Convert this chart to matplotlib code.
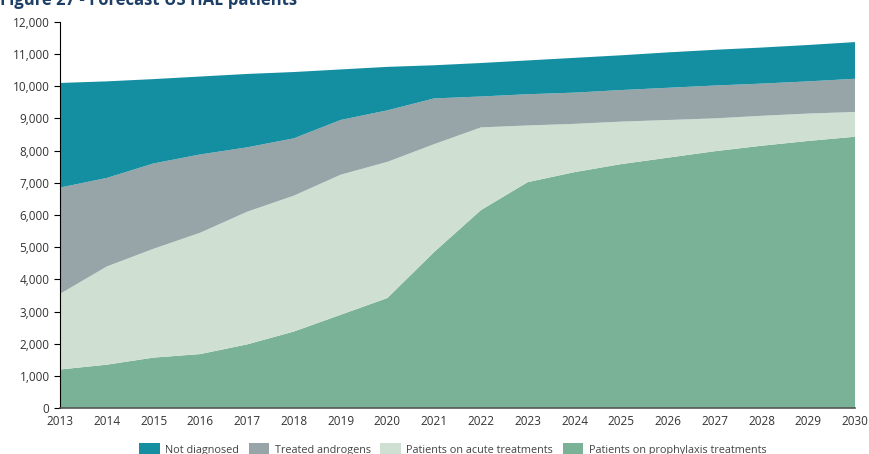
import matplotlib.pyplot as plt
import numpy as np

years = list(range(2013, 2031))

# cumulative tops
total = [10100, 10150, 10220, 10300, 10380, 10440, 10520, 10600, 10650,
         10720, 10800, 10880, 10960, 11050, 11130, 11200, 11280, 11370]
top_androgens = [6850, 7150, 7600, 7880, 8100, 8380, 8950, 9250, 9620,
                 9680, 9750, 9800, 9880, 9950, 10020, 10080, 10150, 10230]
top_acute = [3550, 4400, 4950, 5450, 6100, 6600, 7250, 7650, 8200,
             8720, 8780, 8830, 8900, 8950, 9000, 9080, 9150, 9200]
prophylaxis = [1200, 1350, 1570, 1680, 1980, 2380, 2900, 3420, 4850,
               6150, 7020, 7330, 7580, 7780, 7980, 8150, 8300, 8430]

acute = np.array(top_acute) - np.array(prophylaxis)
androgens = np.array(top_androgens) - np.array(top_acute)
not_diag = np.array(total) - np.array(top_androgens)

labels = ['Not diagnosed', 'Treated androgens', 'Patients on acute treatments',
          'Patients on prophylaxis treatments']
colors = ['#148fa2', '#97a4a8', '#cfe0d3', '#79b296']

plt.rcParams['font.family'] = ['Open Sans', 'DejaVu Sans']

fig = plt.figure(figsize=(8.69, 4.54), dpi=100)
ax = fig.add_axes([0.069, 0.101, 0.915, 0.851])

ax.stackplot(years, prophylaxis, acute, androgens, not_diag,
             colors=colors[::-1], labels=labels[::-1], linewidth=0)

ax.set_xlim(2013, 2030)
ax.set_ylim(0, 12000)
ax.set_xticks(years)
ax.set_yticks(range(0, 12001, 1000))
ax.set_yticklabels(['{:,}'.format(v) for v in range(0, 12001, 1000)])
ax.tick_params(axis='x', length=0, pad=5, labelsize=8.5, colors='#333333')
ax.tick_params(axis='y', length=4, width=0.8, labelsize=8.5, colors='black',
               labelcolor='#333333')
for s in ['top', 'right']:
    ax.spines[s].set_visible(False)
ax.spines['left'].set_color('black')
ax.spines['bottom'].set_color('#555555')
ax.spines['bottom'].set_linewidth(1.2)

handles, labs = ax.get_legend_handles_labels()
fig.legend(handles[::-1], labs[::-1], loc='lower center', ncol=4,
           bbox_to_anchor=(0.521, -0.025), frameon=False, fontsize=7.8,
           handlelength=1.9, handleheight=1.2, columnspacing=0.9,
           handletextpad=0.5, labelcolor='#444444')

# title is cut by the top edge in the source image
fig.text(0.0, 0.99, 'Figure 27 - Forecast US HAE patients', fontsize=12,
         fontweight='bold', color='#1d3f66', va='baseline', ha='left')

plt.savefig('out.png', dpi=100)
